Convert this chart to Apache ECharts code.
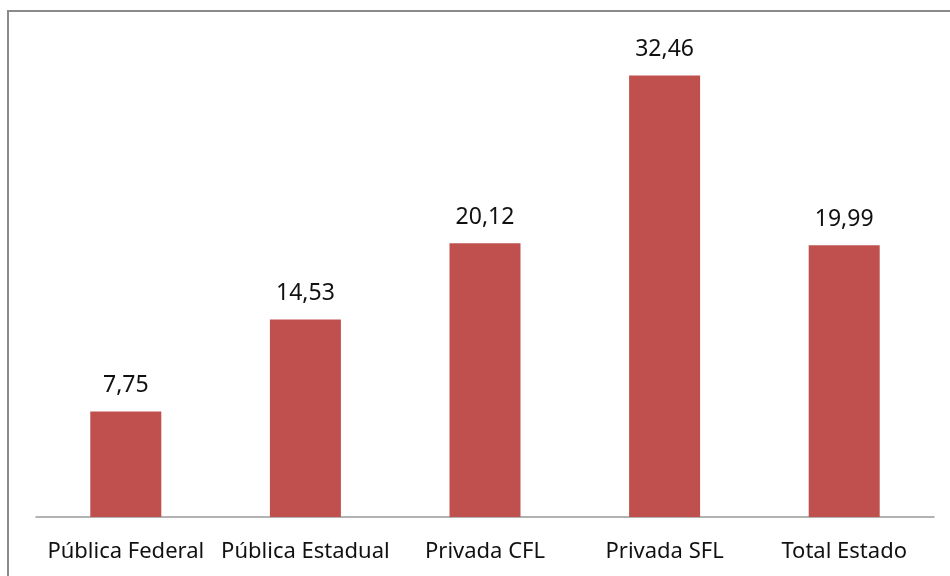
<!DOCTYPE html>
<html>
<head>
<meta charset="utf-8">
<script src="https://cdn.jsdelivr.net/npm/echarts@6/dist/echarts.min.js"></script>
<style>
html,body{margin:0;padding:0;background:#fff;}
#c{width:950px;height:576px;}
</style>
</head>
<body>
<div id="c"></div>
<script>
const categories = ['Pública Federal', 'Pública Estadual', 'Privada CFL', 'Privada SFL', 'Total Estado'];
const values = [7.75, 14.53, 20.12, 32.46, 19.99];

const chart = echarts.init(document.getElementById('c'), null, {renderer: 'canvas'});
chart.setOption({
  animation: false,
  backgroundColor: '#fff',
  textStyle: {fontFamily: 'Noto Sans'},
  graphic: [
    {type: 'polyline', shape: {points: [[8, 576], [8, 11], [950, 11]]},
     style: {stroke: '#8a8a8a', lineWidth: 2, fill: null}, silent: true}
  ],
  grid: {left: 36, right: 16, top: 41, bottom: 59, containLabel: false},
  xAxis: {
    type: 'category',
    data: categories,
    axisLine: {lineStyle: {color: '#999', width: 1.5}},
    axisTick: {show: false},
    axisLabel: {color: '#111', fontSize: 22, margin: 24, fontFamily: 'Noto Sans', interval: 0}
  },
  yAxis: {type: 'value', min: 0, max: 35, show: false, splitLine: {show: false}},
  series: [{
    type: 'bar',
    data: values,
    barWidth: 71,
    itemStyle: {color: '#C0504D'},
    label: {
      show: true, position: 'top', distance: 14,
      color: '#111', fontSize: 23, lineHeight: 24, fontFamily: 'Noto Sans',
      formatter: p => p.value.toFixed(2).replace('.', ',')
    }
  }]
});
</script>
</body>
</html>
